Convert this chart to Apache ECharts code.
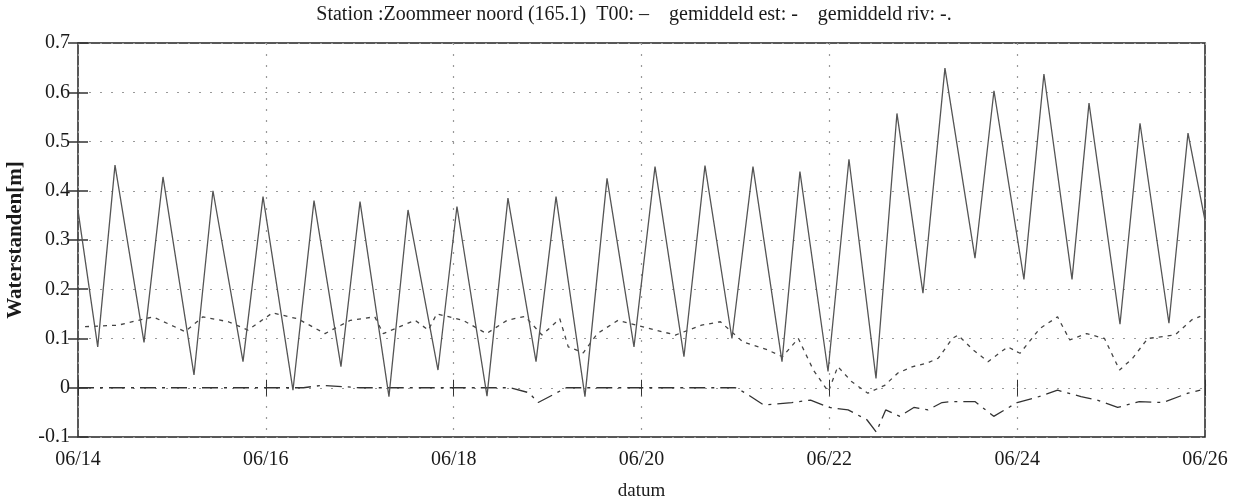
<!DOCTYPE html>
<html>
<head>
<meta charset="utf-8">
<script src="https://cdn.jsdelivr.net/npm/echarts@6/dist/echarts.min.js"></script>
<style>
  html, body { margin: 0; padding: 0; background: #fff; }
  #chart { width: 1239px; height: 501px; }
</style>
</head>
<body>
<div id="chart"></div>
<script>
// x in days since 06/14 00:00
const dayLabels = ['06/14', '06/16', '06/18', '06/20', '06/22', '06/24', '06/26']

// gemeten waterstand (pieken en dalen)
const tideDays = [
    0, 0.21, 0.394, 0.703, 0.905, 1.235, 1.437, 1.757, 1.97, 2.289, 2.513, 2.8,
    3.003, 3.311, 3.514, 3.833, 4.035, 4.355, 4.578, 4.877, 5.09, 5.398, 5.633, 5.92,
    6.144, 6.452, 6.676, 6.963, 7.187, 7.496, 7.687, 7.986, 8.209, 8.497, 8.72, 8.997,
    9.231, 9.551, 9.753, 10.072, 10.285, 10.584, 10.765, 11.095, 11.308, 11.616, 11.819, 12
]
const tideLevels = [
    0.36, 0.083, 0.452, 0.092, 0.428, 0.026, 0.40, 0.053, 0.388, -0.005, 0.38, 0.043,
    0.378, -0.018, 0.361, 0.036, 0.368, -0.017, 0.385, 0.053, 0.388, -0.018, 0.425, 0.083,
    0.449, 0.063, 0.451, 0.10, 0.449, 0.053, 0.439, 0.033, 0.464, 0.019, 0.557, 0.192,
    0.649, 0.263, 0.603, 0.22, 0.637, 0.22, 0.578, 0.129, 0.537, 0.131, 0.517, 0.34
]

// gemiddeld est
const estDays = [
    0.075, 0.426, 0.8, 1.14, 1.33, 1.6, 1.81, 2.07, 2.34, 2.63, 2.9, 3.16, 3.25, 3.59,
    3.73, 3.82, 4.1, 4.35, 4.57, 4.76, 4.94, 5.13, 5.22, 5.38, 5.53, 5.75, 5.95, 6.36,
    6.64, 6.84, 7.08, 7.34, 7.5, 7.67, 7.83, 7.99, 8.09, 8.24, 8.41, 8.59, 8.73, 8.89,
    9.04, 9.16, 9.31, 9.37, 9.53, 9.69, 9.9, 10.03, 10.24, 10.43, 10.56, 10.74, 10.93,
    11.09, 11.23, 11.39, 11.68, 11.86, 11.95
]
const estLevels = [
    0.124, 0.127, 0.144, 0.114, 0.144, 0.134, 0.117, 0.152, 0.14, 0.11, 0.137, 0.144, 0.11, 0.137,
    0.117, 0.15, 0.137, 0.11, 0.137, 0.145, 0.107, 0.14, 0.083, 0.071, 0.11, 0.137, 0.127, 0.107,
    0.127, 0.134, 0.093, 0.077, 0.063, 0.10, 0.036, -0.008, 0.043, 0.012, -0.011, 0.005, 0.03, 0.043,
    0.05, 0.06, 0.10, 0.107, 0.077, 0.053, 0.083, 0.07, 0.12, 0.144, 0.097, 0.11, 0.10,
    0.036, 0.06, 0.10, 0.107, 0.138, 0.145
]

// gemiddeld riv
const rivDays = [
    0, 2.4, 2.6, 3.0, 4.6, 4.8, 4.9, 5.2, 7.0, 7.1, 7.3, 7.6, 7.8, 8.0, 8.2, 8.4, 8.5, 8.6,
    8.75, 8.9, 9.05, 9.2, 9.3, 9.55, 9.75, 10.0, 10.2, 10.43, 10.68, 10.85, 11.07, 11.3, 11.55, 11.82, 11.95
]
const rivLevels = [
    0, 0, 0.005, 0, 0, -0.01, -0.03, 0, 0, -0.01, -0.035, -0.03, -0.025, -0.04, -0.045, -0.065, -0.09, -0.045,
    -0.058, -0.04, -0.045, -0.03, -0.028, -0.028, -0.058, -0.03, -0.02, -0.005, -0.018, -0.025, -0.04, -0.028, -0.03, -0.011, -0.005
]

const pairs = (xs, ys) => xs.map((x, i) => [x, ys[i]])

const chart = echarts.init(document.getElementById('chart'))
const serif = 'Liberation Serif'
const dotted = { show: true, lineStyle: { color: '#999', type: [2, 9], width: 1.2 } }

const option = {
    backgroundColor: '#fff',
    animation: false,
    title: {
        text: 'Station :Zoommeer noord (165.1)  T00: –    gemiddeld est: -    gemiddeld riv: -.',
        left: 629,
        textAlign: 'center',
        top: 0,
        textStyle: { fontFamily: serif, fontSize: 20, fontWeight: 'normal', color: '#1a1a1a' }
    },
    grid: {
        left: 78, right: 34, top: 43, bottom: 64,
        outerBoundsMode: 'none',
        show: true, borderColor: '#222', borderWidth: 1.5
    },
    xAxis: [
        {
            type: 'value', min: 0, max: 12, interval: 2,
            name: 'datum', nameLocation: 'middle', nameGap: 45,
            nameTextStyle: { fontFamily: serif, fontSize: 19, color: '#1a1a1a' },
            axisLine: { show: false },
            axisTick: { show: true, inside: true, length: 8, lineStyle: { color: '#333' } },
            axisLabel: {
                fontFamily: serif, fontSize: 20, color: '#1a1a1a', margin: 13,
                formatter: v => dayLabels[Math.round(v / 2)]
            },
            splitLine: dotted
        },
        {
            type: 'value', min: 0, max: 12, interval: 2, position: 'top',
            axisLine: { show: false },
            axisTick: { show: true, inside: true, length: 8, lineStyle: { color: '#333' } },
            axisLabel: { show: false },
            splitLine: { show: false }
        }
    ],
    yAxis: [
        {
            type: 'value', min: -0.1, max: 0.7, interval: 0.1,
            name: 'Waterstanden[m]', nameLocation: 'middle', nameGap: 52,
            nameTextStyle: { fontFamily: serif, fontSize: 21, fontWeight: 'bold', color: '#1a1a1a' },
            axisLine: { show: false },
            axisTick: { show: true, inside: true, length: 10, lineStyle: { color: '#333', width: 1.5 } },
            axisLabel: {
                fontFamily: serif, fontSize: 20, color: '#1a1a1a', margin: 8,
                formatter: v => String(Math.round(v * 10) / 10)
            },
            splitLine: dotted
        },
        {
            type: 'value', min: -0.1, max: 0.7, interval: 0.1, position: 'right',
            axisLine: { show: false },
            axisTick: { show: true, inside: true, length: 10, lineStyle: { color: '#333', width: 1.5 } },
            axisLabel: { show: false },
            splitLine: { show: false }
        }
    ],
    series: [
        {
            name: 'riv', type: 'line', showSymbol: false,
            data: pairs(rivDays, rivLevels),
            lineStyle: { color: '#333', width: 1.3, type: [16, 6, 3, 6] }
        },
        {
            name: 'est', type: 'line', showSymbol: false,
            data: pairs(estDays, estLevels),
            lineStyle: { color: '#444', width: 1.3, type: [4, 5] }
        },
        {
            name: 'waterstand', type: 'line', showSymbol: false,
            data: pairs(tideDays, tideLevels),
            lineStyle: { color: '#555', width: 1.3 }
        }
    ]
}

option && chart.setOption(option)
</script>
</body>
</html>
